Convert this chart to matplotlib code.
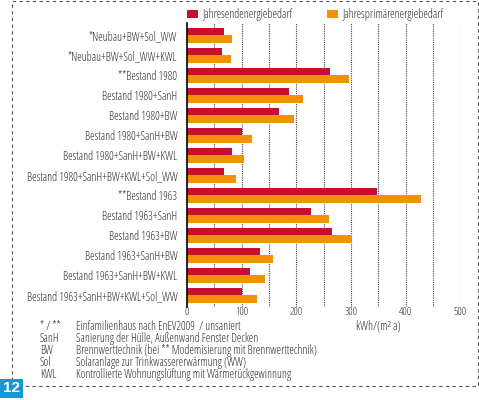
import matplotlib
matplotlib.use("Agg")
import matplotlib.pyplot as plt
import matplotlib.patches as mpatches
import numpy as np

plt.rcParams['font.family'] = ['Open Sans', 'DejaVu Sans']
plt.rcParams['font.stretch'] = 'condensed'

# ---- data ----
categories = [
    "*Neubau+BW+Sol_WW",
    "*Neubau+BW+Sol_WW+KWL",
    "**Bestand 1980",
    "Bestand 1980+SanH",
    "Bestand 1980+BW",
    "Bestand 1980+SanH+BW",
    "Bestand 1980+SanH+BW+KWL",
    "Bestand 1980+SanH+BW+KWL+Sol_WW",
    "**Bestand 1963",
    "Bestand 1963+SanH",
    "Bestand 1963+BW",
    "Bestand 1963+SanH+BW",
    "Bestand 1963+SanH+BW+KWL",
    "Bestand 1963+SanH+BW+KWL+Sol_WW",
]
endenergie = [68, 64, 262, 187, 169, 100, 82, 67, 348, 227, 265, 134, 116, 101]
primaerenergie = [82, 81, 297, 212, 196, 119, 104, 89, 429, 260, 301, 157, 142, 128]
series_names = ["Jahresendenergiebedarf", "Jahresprimärenergiebedarf"]
x_ticks = [0, 100, 200, 300, 400, 500]
unit_label = "kWh/(m² a)"

notes_key = ["* / **", "SanH", "BW", "Sol", "KWL"]
notes_text = [
    "Einfamilienhaus nach EnEV2009  / unsaniert",
    "Sanierung der Hülle, Außenwand Fenster Decken",
    "Brennwerttechnik (bei ** Modemisierung mit Brennwerttechnik)",
    "Solaranlage zur Trinkwassererwärmung (WW)",
    "Kontrollierte Wohnungslüftung mit Wärmerückgewinnung",
]
fig_number = "12"

RED = "#c8102e"
ORANGE = "#f39200"
TXT = "#2b2b2b"
FS = 8.3

W, H = 479, 400
fig = plt.figure(figsize=(W / 100, H / 100), dpi=100)

# axes placed in pixel terms
ax_l, ax_r, ax_t, ax_b = 187, 460.3, 22.7, 307
ax = fig.add_axes([ax_l / W, 1 - ax_b / H, (ax_r - ax_l) / W, (ax_b - ax_t) / H])

y = np.arange(len(categories))
bh = 0.375
ax.barh(y - bh / 2, endenergie, height=bh, color=RED, label=series_names[0], zorder=3)
ax.barh(y + bh / 2, primaerenergie, height=bh, color=ORANGE, label=series_names[1], zorder=3)

ax.set_xlim(0, 500)
ax.set_ylim(len(categories) - 1 + 0.58, -0.64)
ax.set_yticks(y)
ax.set_yticklabels(categories, fontsize=FS, color=TXT)
ax.set_xticks(x_ticks)
ax.set_xticklabels([str(v) for v in x_ticks], fontsize=7.8, color=TXT)
ax.tick_params(axis='y', length=0, pad=7)
ax.tick_params(axis='x', length=0, pad=0)

for v in range(50, 501, 50):
    ax.axvline(v, color="#444444", lw=0.8, ls=(0, (1, 1)), zorder=1)

for s in ["top", "right", "bottom"]:
    ax.spines[s].set_visible(False)
ax.spines["left"].set_color("black")
ax.spines["left"].set_linewidth(1.2)
ax.spines["left"].set_zorder(4)

leg = ax.legend(loc="lower left", bbox_to_anchor=(187 / W, 1 - 21 / H),
                bbox_transform=fig.transFigure, ncol=2, frameon=False,
                fontsize=FS, handlelength=0.96, handleheight=0.61,
                handletextpad=0.41, columnspacing=2.95, borderpad=0,
                borderaxespad=0)
for t in leg.get_texts():
    t.set_color(TXT)

fig.text(378 / W, 1 - 326 / H, unit_label, fontsize=FS, color=TXT,
         ha="center", va="center")

for i, (k, txt) in enumerate(zip(notes_key, notes_text)):
    yy = 1 - (326 + i * 12.1) / H
    fig.text(40 / W, yy, k, fontsize=FS, color=TXT, va="center")
    fig.text(76 / W, yy, txt, fontsize=FS, color=TXT, va="center")

# dashed frame
frame = mpatches.Rectangle((12 / W, 1 - 386 / H), (477.5 - 12) / W, (386 - 1) / H,
                           transform=fig.transFigure, fill=False,
                           edgecolor="#555555", lw=0.8, ls=(0, (3, 3)))
fig.patches.append(frame)

# figure number box
box = mpatches.Rectangle((0, 1 - 398 / H), 23 / W, 19 / H, transform=fig.transFigure,
                         facecolor="#1996d8", edgecolor="none", zorder=5)
fig.patches.append(box)
fig.text(11.5 / W, 1 - 388.5 / H, fig_number, color="white", fontsize=11,
         fontweight="bold", ha="center", va="center", zorder=6,
         family=['Liberation Sans', 'DejaVu Sans'], fontstretch='normal')

fig.savefig("out.png", dpi=100)
